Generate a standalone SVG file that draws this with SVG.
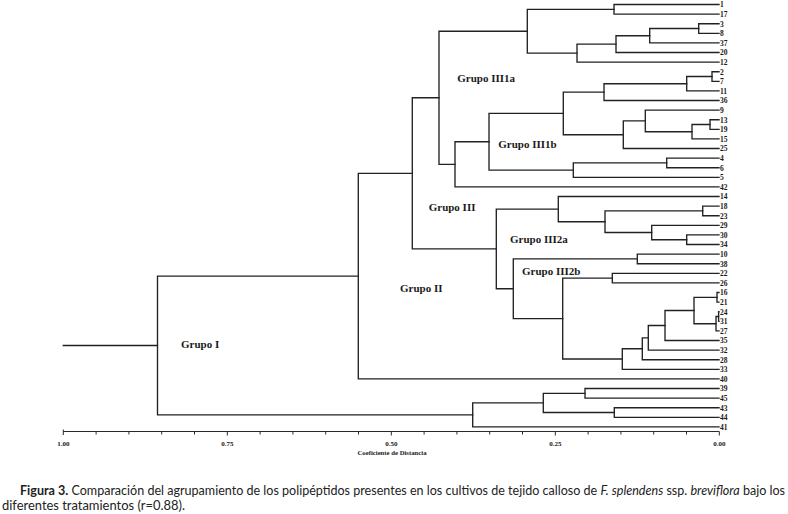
<svg xmlns="http://www.w3.org/2000/svg" width="788" height="514" viewBox="0 0 788 514">
<style>
.c{fill:none;stroke:#222;stroke-width:1.35;stroke-linecap:square}
.lf{font-family:"Liberation Serif","Times New Roman",serif;font-weight:bold;font-size:7.5px;fill:#1a1a1a}
.gr{font-family:"Liberation Serif","Times New Roman",serif;font-weight:bold;font-size:11px;fill:#1a1a1a}
.ax{font-family:"Liberation Serif","Times New Roman",serif;font-weight:bold;font-size:7px;fill:#1a1a1a;text-anchor:middle}
.axt{font-family:"Liberation Serif","Times New Roman",serif;font-weight:bold;font-size:6.8px;fill:#1a1a1a;text-anchor:middle}
.cap{font-family:Lato,"Open Sans",sans-serif;font-size:12.5px;fill:#222}
.tk{stroke:#2a2a2a;stroke-width:1}
</style>
<rect width="788" height="514" fill="#fff"/>
<g id="connectors">
<path class="c" d="M63.3 345.5H157.5"/>
<path class="c" d="M719 4.5H614V14.1H719"/>
<path class="c" d="M719 23.7H698.7V33.3H719"/>
<path class="c" d="M698.7 28.5H649.7V42.9H719"/>
<path class="c" d="M649.7 35.7H616V52.5H719"/>
<path class="c" d="M616 44.1H577V62.1H719"/>
<path class="c" d="M614 9.3H527.3V53.1H577"/>
<path class="c" d="M719 71.7H712V81.3H719"/>
<path class="c" d="M712 76.5H686.7V90.9H719"/>
<path class="c" d="M686.7 83.7H604V100.5H719"/>
<path class="c" d="M719 119.7H710V129.3H719"/>
<path class="c" d="M710 124.5H692V138.9H719"/>
<path class="c" d="M719 110.1H645.3V131.7H692"/>
<path class="c" d="M645.3 120.9H623.3V148.5H719"/>
<path class="c" d="M604 92.1H563.3V134.7H623.3"/>
<path class="c" d="M719 158.1H666.7V167.7H719"/>
<path class="c" d="M666.7 162.9H573.3V177.3H719"/>
<path class="c" d="M563.3 113.4H489V170.1H573.3"/>
<path class="c" d="M489 141.75H455V186.9H719"/>
<path class="c" d="M527.3 31.2H439V164.3H455"/>
<path class="c" d="M719 206.1H702.7V215.7H719"/>
<path class="c" d="M719 234.9H686.7V244.5H719"/>
<path class="c" d="M719 225.3H651.7V239.7H686.7"/>
<path class="c" d="M702.7 210.9H605V232.5H651.7"/>
<path class="c" d="M719 196.5H558.3V221.7H605"/>
<path class="c" d="M719 254.1H637.3V263.7H719"/>
<path class="c" d="M719 273.3H612.3V282.9H719"/>
<path class="c" d="M719 292.5H717V302.1H719"/>
<path class="c" d="M719 311.7H718.6V321.3H719"/>
<path class="c" d="M718.6 316.5H716V330.9H719"/>
<path class="c" d="M717 297.3H694V323.7H716"/>
<path class="c" d="M694 310.5H665V340.5H719"/>
<path class="c" d="M665 325.5H648.3V350.1H719"/>
<path class="c" d="M648.3 337.8H642.3V359.7H719"/>
<path class="c" d="M642.3 348.75H622.3V369.3H719"/>
<path class="c" d="M612.3 278.1H562.7V359H622.3"/>
<path class="c" d="M637.3 258.9H513.3V318.6H562.7"/>
<path class="c" d="M558.3 209.1H496.3V288.7H513.3"/>
<path class="c" d="M439 97.75H412.3V248.9H496.3"/>
<path class="c" d="M412.3 173.3H358.3V378.9H719"/>
<path class="c" d="M719 388.5H585V398.1H719"/>
<path class="c" d="M719 407.7H614.3V417.3H719"/>
<path class="c" d="M585 393.3H543.3V412.5H614.3"/>
<path class="c" d="M543.3 402.9H472.7V426.9H719"/>
<path class="c" d="M358.3 276.1H157.5V414.9H472.7"/>
</g>
<g id="leaves" class="lf">
<g id="leaf-1"><text x="720" y="7.3">1</text></g>
<g id="leaf-17"><text x="720" y="16.9">17</text></g>
<g id="leaf-3"><text x="720" y="26.5">3</text></g>
<g id="leaf-8"><text x="720" y="36.1">8</text></g>
<g id="leaf-37"><text x="720" y="45.7">37</text></g>
<g id="leaf-20"><text x="720" y="55.3">20</text></g>
<g id="leaf-12"><text x="720" y="64.9">12</text></g>
<g id="leaf-2"><text x="720" y="74.5">2</text></g>
<g id="leaf-7"><text x="720" y="84.1">7</text></g>
<g id="leaf-11"><text x="720" y="93.7">11</text></g>
<g id="leaf-36"><text x="720" y="103.3">36</text></g>
<g id="leaf-9"><text x="720" y="112.9">9</text></g>
<g id="leaf-13"><text x="720" y="122.5">13</text></g>
<g id="leaf-19"><text x="720" y="132.1">19</text></g>
<g id="leaf-15"><text x="720" y="141.7">15</text></g>
<g id="leaf-25"><text x="720" y="151.3">25</text></g>
<g id="leaf-4"><text x="720" y="160.9">4</text></g>
<g id="leaf-6"><text x="720" y="170.5">6</text></g>
<g id="leaf-5"><text x="720" y="180.1">5</text></g>
<g id="leaf-42"><text x="720" y="189.7">42</text></g>
<g id="leaf-14"><text x="720" y="199.3">14</text></g>
<g id="leaf-18"><text x="720" y="208.9">18</text></g>
<g id="leaf-23"><text x="720" y="218.5">23</text></g>
<g id="leaf-29"><text x="720" y="228.1">29</text></g>
<g id="leaf-30"><text x="720" y="237.7">30</text></g>
<g id="leaf-34"><text x="720" y="247.3">34</text></g>
<g id="leaf-10"><text x="720" y="256.9">10</text></g>
<g id="leaf-38"><text x="720" y="266.5">38</text></g>
<g id="leaf-22"><text x="720" y="276.1">22</text></g>
<g id="leaf-26"><text x="720" y="285.7">26</text></g>
<g id="leaf-16"><text x="720" y="295.3">16</text></g>
<g id="leaf-21"><text x="720" y="304.9">21</text></g>
<g id="leaf-24"><text x="720" y="314.5">24</text></g>
<g id="leaf-31"><text x="720" y="324.1">31</text></g>
<g id="leaf-27"><text x="720" y="333.7">27</text></g>
<g id="leaf-35"><text x="720" y="343.3">35</text></g>
<g id="leaf-32"><text x="720" y="352.9">32</text></g>
<g id="leaf-28"><text x="720" y="362.5">28</text></g>
<g id="leaf-33"><text x="720" y="372.1">33</text></g>
<g id="leaf-40"><text x="720" y="381.7">40</text></g>
<g id="leaf-39"><text x="720" y="391.3">39</text></g>
<g id="leaf-45"><text x="720" y="400.9">45</text></g>
<g id="leaf-43"><text x="720" y="410.5">43</text></g>
<g id="leaf-44"><text x="720" y="420.1">44</text></g>
<g id="leaf-41"><text x="720" y="429.7">41</text></g>
</g>
<g id="groups" class="gr">
<g id="grupo-I"><text x="181" y="347.5">Grupo I</text></g>
<g id="grupo-II"><text x="400" y="292">Grupo II</text></g>
<g id="grupo-III"><text x="428.7" y="211">Grupo III</text></g>
<g id="grupo-III1a"><text x="457.3" y="82">Grupo III1a</text></g>
<g id="grupo-III1b"><text x="498.3" y="148">Grupo III1b</text></g>
<g id="grupo-III2a"><text x="510" y="243">Grupo III2a</text></g>
<g id="grupo-III2b"><text x="522" y="274.5">Grupo III2b</text></g>
</g>
<g id="axis">
<path class="tk" d="M63.3 431.5H719.3"/>
<path class="tk" d="M63.3 429.5V435M96.1 431.5V434.5M128.9 431.5V434.5M161.7 431.5V434.5M194.5 431.5V434.5M227.3 431.5V435.5M260.1 431.5V434.5M292.9 431.5V434.5M325.7 431.5V434.5M358.5 431.5V434.5M391.3 431.5V435.5M424.1 431.5V434.5M456.9 431.5V434.5M489.7 431.5V434.5M522.5 431.5V434.5M555.3 431.5V435.5M588.1 431.5V434.5M620.9 431.5V434.5M653.7 431.5V434.5M686.5 431.5V434.5M719.3 431.5V435.5"/>
<text class="ax" x="63.3" y="445.5">1.00</text>
<text class="ax" x="227.3" y="445.5">0.75</text>
<text class="ax" x="391.3" y="445.5">0.50</text>
<text class="ax" x="555.3" y="445.5">0.25</text>
<text class="ax" x="719.3" y="445.5">0.00</text>
<text class="axt" x="392" y="454.5" textLength="69" lengthAdjust="spacingAndGlyphs">Coeficiente de Distancia</text>
</g>
<g id="caption">
<text class="cap" x="20" y="495" textLength="765" lengthAdjust="spacingAndGlyphs"><tspan font-weight="bold">Figura 3.</tspan> Comparación del agrupamiento de los polipéptidos presentes en los cultivos de tejido calloso de <tspan font-style="italic">F. splendens</tspan> ssp. <tspan font-style="italic">breviflora</tspan> bajo los</text>
<text class="cap" x="2" y="510" textLength="183" lengthAdjust="spacingAndGlyphs">diferentes tratamientos (r=0.88).</text>
</g>
</svg>
